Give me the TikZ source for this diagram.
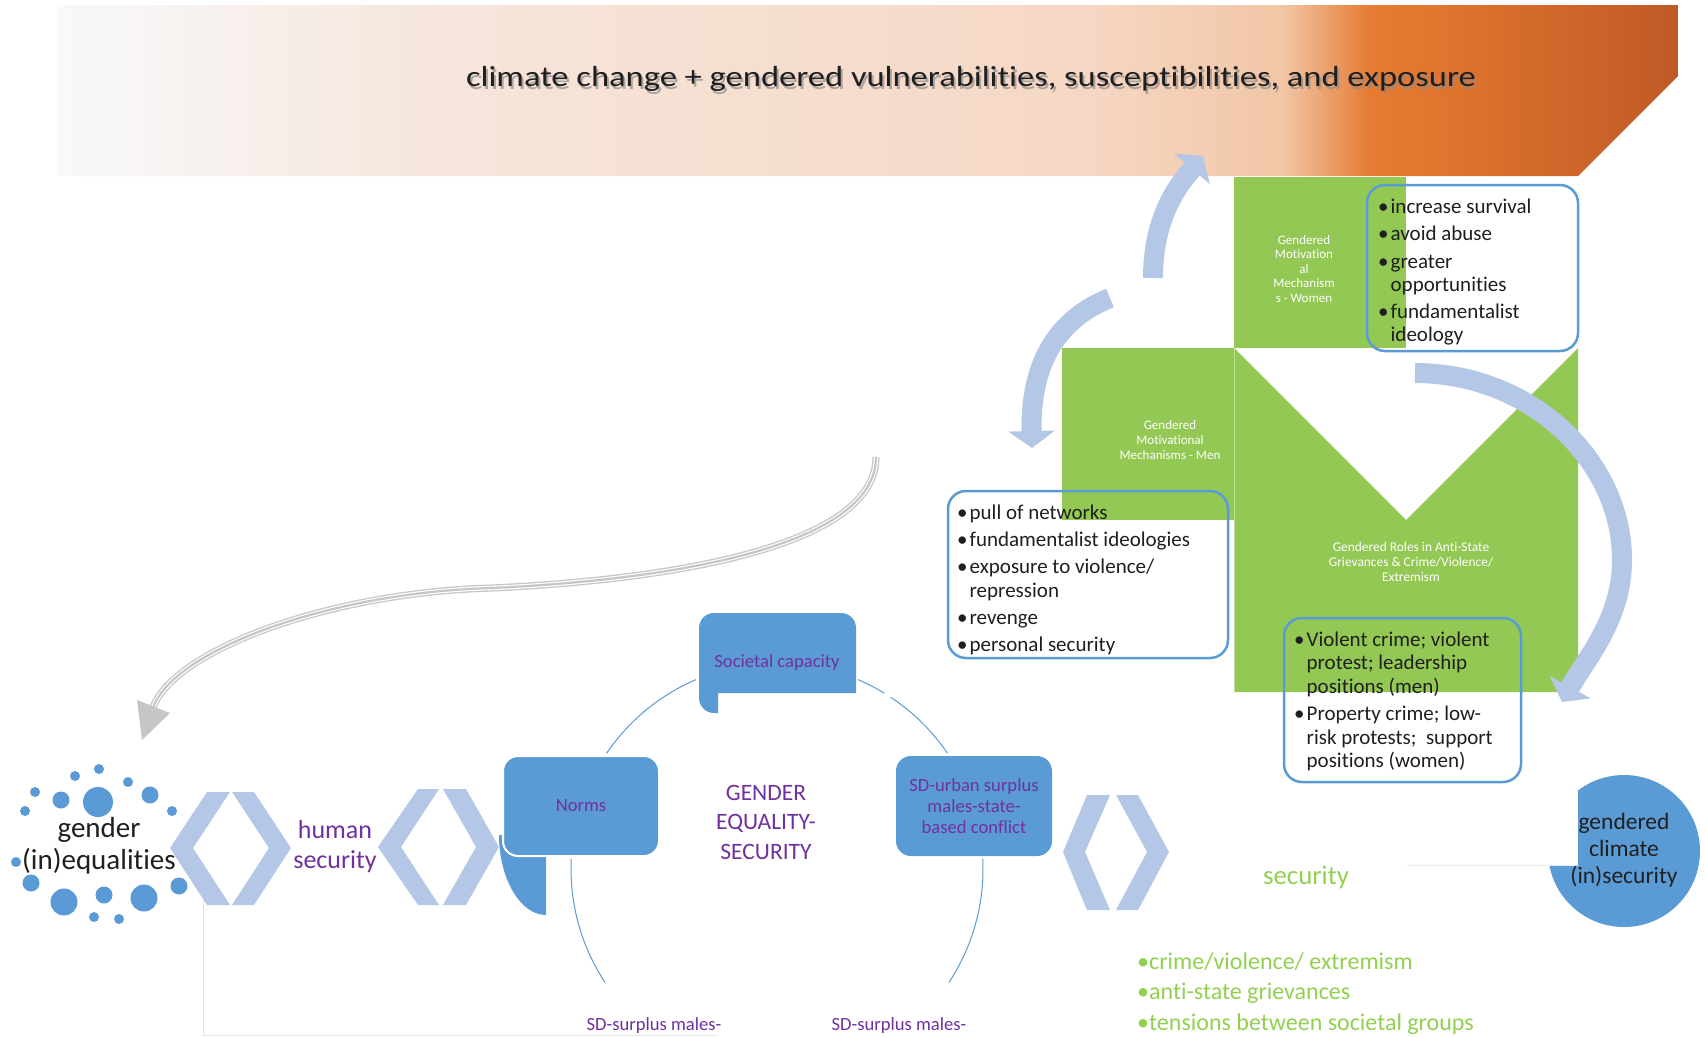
\documentclass[tikz,border=0pt]{standalone}
\usepackage{fontspec}
\setmainfont{Carlito}[Ligatures={NoCommon,NoContextual}]
\usetikzlibrary{arrows.meta}
\definecolor{bblue}{HTML}{5B9BD5}
\definecolor{lblue}{HTML}{B4C7E7}
\definecolor{grn}{HTML}{92C853}
\definecolor{tgreen}{HTML}{92D050}
\definecolor{purp}{HTML}{7030A0}
\definecolor{arrgray}{HTML}{C6C6C6}
\definecolor{sh0}{HTML}{F8F9FB}
\definecolor{sh1}{HTML}{F6E6DC}
\definecolor{sh2}{HTML}{F6D7C4}
\definecolor{sh3}{HTML}{F2C6A6}
\definecolor{sh4}{HTML}{E67B33}
\definecolor{sh5}{HTML}{E0742E}
\definecolor{sh6}{HTML}{BF5926}
\pgfdeclarehorizontalshading{bannershade}{100bp}{color(0bp)=(sh0); color(25bp)=(sh0); color(36.6bp)=(sh1); color(56.8bp)=(sh2); color(62.8bp)=(sh3); color(65.5bp)=(sh4); color(67.9bp)=(sh5); color(75bp)=(sh6); color(100bp)=(sh6)}
\newcommand\cctitle{\scalebox{1.19}[1]{climate change + gendered vulnerabilities, susceptibilities, and exposure}}
\tikzset{
  blockarrow/.style={draw=lblue, line width=20pt, -{Triangle[length=17pt,width=46pt]}},
  bluebox/.style={fill=bblue, rounded corners=15pt, minimum width=156pt, minimum height=100pt, inner sep=0pt},
  bulletbox/.style={draw=bblue, line width=2.5pt, rounded corners=18pt, inner sep=0pt},
  greenlabel/.style={text=white, font=\fontsize{13}{15}\selectfont, align=center, inner sep=0pt},
  purplelabel/.style={text=purp, font=\fontsize{18.6}{21}\selectfont, align=center, inner sep=0pt},
  listtext/.style={inner sep=0pt, font=\fontsize{21}{23.5}\selectfont, text=black!88, anchor=base west},
  titlestyle/.style={inner sep=0pt, font=\fontsize{29}{34}\selectfont, text=black!88},
  chev/.style={fill=lblue},
  faint/.style={draw=black!10, line width=1pt},
  ring/.style={draw=bblue, line width=1pt},
  wave/.style={draw=arrgray, line width=2.2pt, preaction={draw=arrgray, line width=1.3pt, double=white, double distance=4.5pt}}
}
\begin{document}
\begin{tikzpicture}[x=1pt,y=-1pt]
\fill[white] (0,0) rectangle (1706,1037);
\useasboundingbox (0,0) rectangle (1706,1037);

% faint lines
\draw[faint] (203,868) -- (203,1037);
\draw[faint] (203,1035.5) -- (716,1035.5);

% banner
\shade[shading=bannershade] (57,5) -- (1678,5) -- (1678,76) -- (1578,176) -- (57,176) -- cycle;
\node[titlestyle, text=black!45, opacity=0.7] (titleshadow) at (973,81.5) {\cctitle};
\node[titlestyle] (title) at (971,79) {\cctitle};

% green blocks
\fill[grn] (1234,177) rectangle (1406,348);
\fill[grn] (1062,348) rectangle (1234,520);
\fill[grn] (1234,348) -- (1406,520) -- (1578,348) -- (1578,692) -- (1234,692) -- cycle;
\draw[white, opacity=0.4, line width=0.8pt] (1234,348) -- (1234,692);
\node[greenlabel, font=\fontsize{13}{14.5}\selectfont] (wlabel) at (1304,269) {Gendered\\Motivation\\al\\Mechanism\\s - Women};
\node[greenlabel] (mlabel) at (1170,440) {Gendered\\Motivational\\Mechanisms - Men};
\node[greenlabel, font=\fontsize{13.4}{15}\selectfont] (rlabel) at (1411,562) {Gendered Roles in Anti-State\\Grievances \& Crime/Violence/\\Extremism};

% bullet boxes
\node[bulletbox, minimum width=211pt, minimum height=166pt] (wbox) at (1472.5,268) {};
\node[bulletbox, minimum width=280pt, minimum height=167pt] (mbox) at (1088,574.5) {};
\node[bulletbox, minimum width=237pt, minimum height=164pt] (rbox) at (1402.5,700) {};
\node[listtext, font=\fontsize{21}{23}\selectfont] (wlist) at (1378,213) {\begin{tabular}[t]{@{}l@{\hspace{2pt}}l@{}}•&increase survival\\[4.5pt]•&avoid abuse\\[4.5pt]•&greater\\&opportunities\\[4.5pt]•&fundamentalist\\&ideology\end{tabular}};
\node[listtext, font=\fontsize{21}{24}\selectfont] (mlist) at (957,519) {\begin{tabular}[t]{@{}l@{\hspace{2pt}}l@{}}•&pull of networks\\[3pt]•&fundamentalist ideologies\\[3pt]•&exposure to violence/\\&repression\\[3pt]•&revenge\\[3pt]•&personal security\end{tabular}};
\node[listtext] (rlist) at (1294,646) {\begin{tabular}[t]{@{}l@{\hspace{2pt}}l@{}}•&Violent crime; violent\\&protest; leadership\\&positions (men)\\[4pt]•&Property crime; low-\\&risk protests;\ \ support\\&positions (women)\end{tabular}};

% light blue curved arrows
\coordinate (a1s) at (1153,278);
\coordinate (a1e) at (1203,156);
\coordinate (a2s) at (1110,298);
\coordinate (a2e) at (1032,448);
\coordinate (a3s) at (1415,373);
\coordinate (a3m) at (1622,560);
\coordinate (a3e) at (1562,702);
\draw[blockarrow] (a1s) .. controls (1153,215) and (1180,183) .. (a1e);
\draw[blockarrow] (a2s) .. controls (1060,318) and (1030,360) .. (a2e);
\draw[blockarrow] (a3s) .. controls (1530,373) and (1622,460) .. (a3m) .. controls (1622,620) and (1585,660) .. (a3e);

% gray wavy arrow
\coordinate (gws) at (876,457);
\coordinate (gwm) at (493,588);
\coordinate (gwe) at (153.5,706.5);
\draw[wave] (gws) .. controls (876,540) and (700,578) .. (gwm) .. controls (330,592) and (175,650) .. (gwe);
\fill[arrgray] (137,700) -- (170,713) -- (142,740) -- cycle;

% ring arcs
\draw[ring] (777,869) ++(214.2:206) arc[start angle=214.2, end angle=246.9, radius=206];
\draw[ring] (777,869) ++(293.1:206) arc[start angle=293.1, end angle=301.4, radius=206];
\draw[ring] (777,869) ++(303.5:206) arc[start angle=303.5, end angle=325.8, radius=206];
\draw[ring] (777,869) ++(-2.8:206) arc[start angle=-2.8, end angle=33.4, radius=206];
\draw[ring] (777,869) ++(146.5:206) arc[start angle=146.5, end angle=182.8, radius=206];

% blue boxes
\fill[bblue] (718,713) -- (714,713) arc[start angle=90, end angle=180, radius=15] -- (699,628) arc[start angle=180, end angle=270, radius=15] -- (841,613) arc[start angle=270, end angle=360, radius=15] -- (856,693) -- (718,693) -- cycle;
\node[purplelabel] (societal) at (777,663) {Societal capacity};
\fill[bblue] (546,835) -- (499,835) .. controls (499,878) and (520,915) .. (546,915) -- cycle;
\node[bluebox, draw=white, line width=2pt, text=purp, font=\fontsize{18.6}{21}\selectfont] (norms) at (581,806) {Norms};
\node[bluebox, text=purp, font=\fontsize{18.6}{21}\selectfont, align=center] (sdurban) at (974,806) {SD-urban surplus\\males-state-\\based conflict};
\node[text=purp, font=\fontsize{23.5}{29.5}\selectfont, align=center, inner sep=0pt] (ges) at (766,822) {GENDER\\EQUALITY-\\SECURITY};
\node[purplelabel] (sd1) at (654,1026) {SD-surplus males-};
\node[purplelabel] (sd2) at (899,1026) {SD-surplus males-};

% chevrons
\fill[chev] (207,792) -- (230,792) -- (193,848) -- (230,905) -- (207,905) -- (170,848) -- cycle;
\fill[chev] (232,792) -- (254,792) -- (291,848) -- (254,905) -- (232,905) -- (269,848) -- cycle;
\fill[chev] (418,789) -- (439,789) -- (401,847) -- (439,905) -- (418,905) -- (378,847) -- cycle;
\fill[chev] (443,789) -- (466,789) -- (499,847) -- (466,905) -- (443,905) -- (476,847) -- cycle;
\fill[chev] (1087,795) -- (1110,795) -- (1085,852) -- (1110,910) -- (1087,910) -- (1063,852) -- cycle;
\fill[chev] (1116,795) -- (1138,795) -- (1169,852) -- (1138,910) -- (1116,910) -- (1147,852) -- cycle;

% dots
\foreach \px/\py/\pr in {98/802/15, 61/800/8.5, 150/795/8.5, 31/883/8.5, 64/902/13.5, 104/895/8.5, 144/898/13.5, 179/886/8.5,
  35/792/5, 25/811/5, 75/776/5, 99/769/5, 128/782/5, 172/811/5, 16/862/5, 94/917/5, 119/919/5}
  \fill[bblue] (\px,\py) circle (\pr);

% texts
\node[inner sep=0pt, align=center, font=\fontsize{29}{32}\selectfont, text=black!88] (gineq) at (99,846) {gender\\(in)equalities};
\node[inner sep=0pt, align=center, font=\fontsize{26}{30}\selectfont, text=purp] (hsec) at (335,847) {human\\security};
\node[inner sep=0pt, font=\fontsize{26.8}{30}\selectfont, text=tgreen] (gsec) at (1306,877) {security};
\node[listtext, font=\fontsize{24}{30.5}\selectfont, text=tgreen] (glist) at (1137,969) {\begin{tabular}[t]{@{}l@{}}•crime/violence/ extremism\\•anti-state grievances\\•tensions between societal groups\end{tabular}};

% gendered climate (in)security
\node[circle, fill=bblue, minimum size=152pt, inner sep=0pt] (gcirc) at (1624,851) {};
\fill[white] (1540,770) rectangle (1578,865);
\draw[draw=black!8, line width=1pt] (1407,865) -- (1578,865);
\node[inner sep=0pt, align=center, font=\fontsize{23.5}{27}\selectfont, text=black!88] (gclim) at (1624,850) {gendered\\climate\\(in)security};
\end{tikzpicture}
\end{document}
